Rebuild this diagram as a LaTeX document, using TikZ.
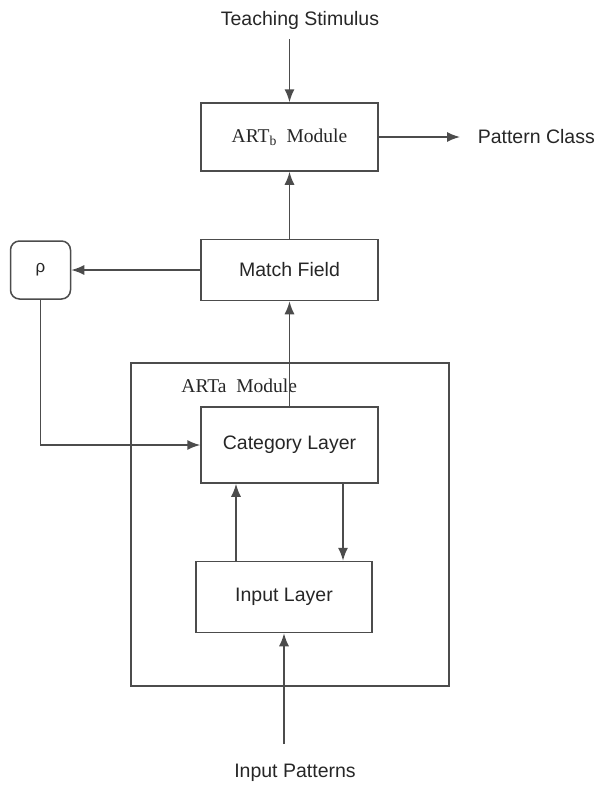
\documentclass[tikz,border=0pt]{standalone}
\usepackage{fontspec}
\setmainfont{Liberation Serif}
\setsansfont{Liberation Sans}
\usepackage{tikz}
\usetikzlibrary{arrows.meta, calc, positioning}

\begin{document}
\begin{tikzpicture}[x=1pt, y=-1pt, >={Latex[length=13pt,width=10pt]}, line width=1.5pt,
  font=\sffamily\fontsize{19.5}{23}\selectfont, text=black!85]

\useasboundingbox (0,0) rectangle (595,785);

\begin{scope}[draw=black!70, minimum width=177pt, inner sep=1pt]

\node[draw, minimum height=68pt, font=\rmfamily\fontsize{19.5}{23}\selectfont] (artb) at (289.5,137) {ART\textsubscript{b}\ \ Module};
\node[draw, minimum height=61pt, below = 67pt of artb] (match) {Match Field};
\node[draw, minimum height=76pt, below = 105pt of match] (category) {Category Layer};
\node[draw, minimum height=71pt, minimum width=176pt, below = 77pt of category, xshift=-5.5pt] (input) {Input Layer};
\node[draw, minimum width=60pt, minimum height=58pt, rounded corners=9pt, left = 129pt of match, font=\sffamily\fontsize{17}{20}\selectfont] (rho) {ρ};

% ARTa frame
\node[draw, minimum width=318pt, minimum height=323pt] (arta) at (290,524.5) {};
\node[anchor=west, font=\rmfamily\fontsize{19.5}{23}\selectfont] (arta-label) at (150,386) {ARTa\ \ Module};

\end{scope}

\node (teaching) at (300,20) {Teaching Stimulus};
\node[anchor=west, inner sep=0pt] (class) at (477,137) {Pattern Class};
\node (patterns) at (295,773) {Input Patterns};
\coordinate (teaching-end) at (289.5,39);
\coordinate (patterns-end) at (284,744);

\begin{scope}[draw=black!70]
\draw[->] (teaching-end) -- (artb);
\draw[->, shorten >=17pt] (artb) -- (class);
\draw[->] (match) -- (artb);
\draw[->] (match) -- (rho);
\draw[->] (rho.south) |- (category.west);
\draw[->] (category) -- (match);
\draw[->] ([xshift=-48pt]input.north) -- ([xshift=-48pt]input.north |- category.south);
\draw[->] ([xshift=59pt]input.north |- category.south) -- ([xshift=59pt]input.north);
\draw[->] (patterns-end) -- (input);
\end{scope}

\end{tikzpicture}
\end{document}
